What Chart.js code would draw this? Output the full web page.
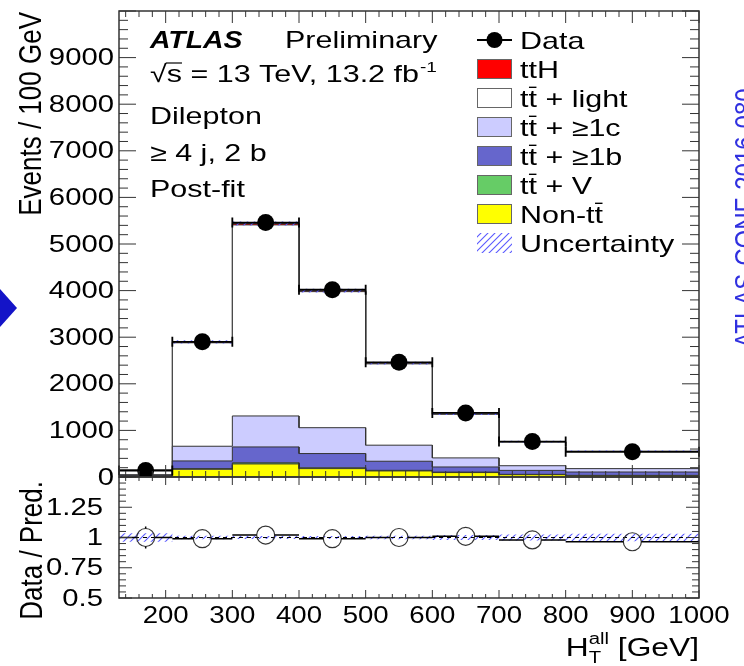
<!DOCTYPE html>
<html>
<head>
<meta charset="utf-8">
<script src="https://cdn.jsdelivr.net/npm/chart.js@4.4.1/dist/chart.umd.min.js"></script>
<style>
html, body { margin: 0; padding: 0; background: #fff; }
#wrap { position: relative; width: 744px; height: 666px; }
</style>
</head>
<body>
<div id="wrap"><canvas id="myChart" width="744" height="666"></canvas></div>
<script>
// H_T^all bins (GeV) and post-fit yields
var binEdges   = [130, 210, 300, 400, 500, 600, 700, 800, 1000];
var dataCounts = [140, 2900, 5460, 4020, 2460, 1375, 760, 540];
var nonTT      = [12, 165, 280, 180, 130, 95, 50, 30];
var ttV        = [3, 15, 25, 18, 13, 10, 7, 5];
var ttB        = [15, 165, 340, 305, 195, 110, 85, 72];
var ttC        = [20, 315, 665, 555, 345, 195, 100, 73];
var ttLight    = [95, 2220, 4100, 2920, 1745, 935, 510, 370];
var ttH        = [2, 20, 30, 22, 14, 8, 5, 3];
var uncRel     = [0.04, 0.012, 0.008, 0.01, 0.012, 0.018, 0.025, 0.03];
// lower panel
var ratioData  = [1.00, 0.99, 1.02, 0.99, 1.00, 1.01, 0.98, 0.965];
var ratioErr   = [0.09, 0.02, 0.015, 0.015, 0.02, 0.03, 0.04, 0.045];
var ratioUnc   = [0.035, 0.015, 0.012, 0.012, 0.015, 0.02, 0.025, 0.03];
// ticks
var xTickVals  = [200, 300, 400, 500, 600, 700, 800, 900, 1000];
var yTickVals  = [0, 1000, 2000, 3000, 4000, 5000, 6000, 7000, 8000, 9000];
var rTickVals  = [0.5, 0.75, 1, 1.25];

var FONT = "'Liberation Sans', Arial, Helvetica, sans-serif";
var STRETCH = 1.27; // the source picture is squeezed wider than tall

function steps(vals) {
  var pts = [];
  for (var i = 0; i < vals.length; i++) {
    pts.push({x: binEdges[i], y: vals[i]});
    pts.push({x: binEdges[i + 1], y: vals[i]});
  }
  return pts;
}

function hatch(color) {
  var c = document.createElement('canvas');
  c.width = 7; c.height = 7;
  var g = c.getContext('2d');
  g.strokeStyle = color;
  g.lineWidth = 1.1;
  g.beginPath();
  g.moveTo(0, 7); g.lineTo(7, 0);
  g.moveTo(-1, 1); g.lineTo(1, -1);
  g.moveTo(6, 8); g.lineTo(8, 6);
  g.stroke();
  return g.createPattern(c, 'repeat');
}
var hatchBlue = hatch('#5a5aff');

// cumulative stack, bottom to top
var layers = [nonTT, ttV, ttB, ttC, ttLight, ttH];
var layerNames = ['Non-tt', 'tt+V', 'tt+b', 'tt+c', 'tt+light', 'ttH'];
var layerColors = ['#ffff00', '#66cc66', '#6666cc', '#ccccff', '#ffffff', '#ff0000'];
var cum = [];
var run = dataCounts.map(function() { return 0; });
layers.forEach(function(arr) {
  run = run.map(function(v, i) { return v + arr[i]; });
  cum.push(run.slice());
});
var total = cum[cum.length - 1];

var datasets = [];
cum.forEach(function(c, k) {
  datasets.push({
    label: layerNames[k],
    data: steps(c),
    yAxisID: 'y',
    borderColor: '#333',
    borderWidth: 1,
    backgroundColor: layerColors[k],
    fill: k === 0 ? 'origin' : '-1',
    pointRadius: 0
  });
});
// uncertainty band (upper)
datasets.push({
  label: 'uncLo', data: steps(total.map(function(v, i) { return v * (1 - uncRel[i]); })),
  yAxisID: 'y', borderWidth: 0, pointRadius: 0, fill: false, order: -1
});
datasets.push({
  label: 'uncHi', data: steps(total.map(function(v, i) { return v * (1 + uncRel[i]); })),
  yAxisID: 'y', borderWidth: 0, pointRadius: 0, fill: '-1', backgroundColor: hatchBlue, order: -1
});
// data points
datasets.push({
  label: 'Data',
  data: dataCounts.map(function(v, i) { return {x: (binEdges[i] + binEdges[i + 1]) / 2, y: v}; }),
  yAxisID: 'y', showLine: false, pointRadius: 8.5, pointBackgroundColor: '#000',
  pointBorderWidth: 0, order: -2
});
// ratio band
datasets.push({
  label: 'rLo', data: steps(ratioUnc.map(function(u) { return 1 - u; })),
  yAxisID: 'yr', borderWidth: 0, pointRadius: 0, fill: false, order: -1
});
datasets.push({
  label: 'rHi', data: steps(ratioUnc.map(function(u) { return 1 + u; })),
  yAxisID: 'yr', borderWidth: 0, pointRadius: 0, fill: '-1', backgroundColor: hatchBlue, order: -1
});
// reference line at 1
datasets.push({
  label: 'ref', data: [{x: binEdges[0], y: 1}, {x: binEdges[binEdges.length - 1], y: 1}],
  yAxisID: 'yr', borderColor: '#000', borderWidth: 1, borderDash: [4, 4], pointRadius: 0, fill: false, order: -2
});
// ratio points
datasets.push({
  label: 'ratio',
  data: ratioData.map(function(v, i) { return {x: (binEdges[i] + binEdges[i + 1]) / 2, y: v}; }),
  yAxisID: 'yr', showLine: false, pointRadius: 9, pointBackgroundColor: 'rgba(0,0,0,0)',
  pointBorderColor: '#333', pointBorderWidth: 1.2, order: -3
});

// stretched text, returns drawn width
function stext(ctx, str, x, y, align, sx) {
  sx = sx || STRETCH;
  ctx.save();
  ctx.translate(x, y);
  ctx.scale(sx, 1);
  ctx.textAlign = align || 'left';
  ctx.fillText(str, 0, 0);
  ctx.restore();
  return ctx.measureText(str).width * sx;
}

function tbar(ctx, x, base, size) {
  // "tt" with a bar over the second t, returns width
  var w1 = ctx.measureText('t').width * STRETCH;
  var w2 = stext(ctx, 'tt', x, base);
  ctx.save();
  ctx.lineWidth = 1.4;
  ctx.strokeStyle = '#000';
  ctx.beginPath();
  ctx.moveTo(x + w1 + 0.5, base - size * 0.82);
  ctx.lineTo(x + w2 - 0.5, base - size * 0.82);
  ctx.stroke();
  ctx.restore();
  return w2;
}

var decor = {
  id: 'decor',
  afterDatasetsDraw: function(chart) {
    var ctx = chart.ctx, xs = chart.scales.x, ys = chart.scales.y, yr = chart.scales.yr;
    ctx.save();
    ctx.strokeStyle = '#000';
    for (var i = 0; i < dataCounts.length; i++) {
      var x0 = xs.getPixelForValue(binEdges[i]), x1 = xs.getPixelForValue(binEdges[i + 1]);
      var py = ys.getPixelForValue(dataCounts[i]);
      ctx.lineWidth = 1.8;
      ctx.beginPath();
      ctx.moveTo(x0, py); ctx.lineTo(x1, py);
      ctx.moveTo(x0, py - 5); ctx.lineTo(x0, py + 5);
      ctx.moveTo(x1, py - 5); ctx.lineTo(x1, py + 5);
      ctx.stroke();
      var ry = yr.getPixelForValue(ratioData[i]);
      var cx = xs.getPixelForValue((binEdges[i] + binEdges[i + 1]) / 2);
      ctx.lineWidth = 1.5;
      ctx.beginPath();
      ctx.moveTo(x0, ry); ctx.lineTo(cx - 9, ry);
      ctx.moveTo(cx + 9, ry); ctx.lineTo(x1, ry);
      var eTop = yr.getPixelForValue(ratioData[i] + ratioErr[i]);
      var eBot = yr.getPixelForValue(ratioData[i] - ratioErr[i]);
      if (ry - eTop > 9) {
        ctx.moveTo(cx, eTop); ctx.lineTo(cx, ry - 9);
        ctx.moveTo(cx, ry + 9); ctx.lineTo(cx, eBot);
      }
      ctx.stroke();
    }
    ctx.restore();
  },
  afterDraw: function(chart) {
    var ctx = chart.ctx, xs = chart.scales.x, ys = chart.scales.y, yr = chart.scales.yr;
    var L = xs.left, R = xs.right;
    ctx.save();
    // frames
    ctx.strokeStyle = '#333';
    ctx.lineWidth = 1.5;
    ctx.strokeRect(L, ys.top, R - L, ys.bottom - ys.top);
    ctx.strokeRect(L, yr.top, R - L, yr.bottom - yr.top);
    // x ticks on all horizontal frame lines
    ctx.lineWidth = 1;
    ctx.beginPath();
    for (var v = 140; v <= 1000; v += 20) {
      var px = xs.getPixelForValue(v);
      var big = v % 100 === 0;
      var l = big ? 12 : 6;
      ctx.moveTo(px, ys.bottom); ctx.lineTo(px, ys.bottom - l);
      ctx.moveTo(px, ys.top); ctx.lineTo(px, ys.top + l);
      ctx.moveTo(px, yr.top); ctx.lineTo(px, yr.top + (big ? 8 : 4));
      ctx.moveTo(px, yr.bottom); ctx.lineTo(px, yr.bottom - (big ? 8 : 4));
    }
    // y ticks upper panel
    for (var y = 0; y <= 10000; y += 200) {
      var py = ys.getPixelForValue(y);
      var ly = y % 1000 === 0 ? 17 : 9;
      ctx.moveTo(L, py); ctx.lineTo(L + ly, py);
      ctx.moveTo(R, py); ctx.lineTo(R - ly, py);
    }
    // y ticks ratio panel
    for (var k = 0; k <= 20; k++) {
      var pr = yr.getPixelForValue(0.5 + k * 0.05);
      var lr = k % 5 === 0 ? 13 : 7;
      ctx.moveTo(L, pr); ctx.lineTo(L + lr, pr);
      ctx.moveTo(R, pr); ctx.lineTo(R - lr, pr);
    }
    ctx.stroke();

    // tick labels
    ctx.fillStyle = '#000';
    ctx.font = '24px ' + FONT;
    ctx.textBaseline = 'middle';
    yTickVals.forEach(function(t) { stext(ctx, String(t), L - 5, ys.getPixelForValue(t) + 1, 'right', 1.22); });
    rTickVals.forEach(function(t) { stext(ctx, String(t), L - 16, yr.getPixelForValue(t) + 1, 'right', 1.22); });
    ctx.textBaseline = 'alphabetic';
    xTickVals.forEach(function(t) { stext(ctx, String(t), xs.getPixelForValue(t), 623, 'center', 1.15); });

    // labels block
    ctx.font = 'italic bold 24px ' + FONT;
    stext(ctx, 'ATLAS', 150, 48, 'left', 1.18);
    ctx.font = '24px ' + FONT;
    stext(ctx, 'Preliminary', 285, 48);
    var sx = 150, sb = 82;
    var wr = stext(ctx, '\u221A', sx, sb);
    var wf = stext(ctx, 's = 13 TeV, 13.2 fb', sx + wr, sb);
    var ws = ctx.measureText('s').width * STRETCH;
    ctx.lineWidth = 1.2;
    ctx.strokeStyle = '#000';
    ctx.beginPath();
    ctx.moveTo(sx + wr - 1, sb - 19); ctx.lineTo(sx + wr + ws, sb - 19);
    ctx.stroke();
    ctx.font = '15px ' + FONT;
    stext(ctx, '-1', sx + wr + wf + 1, sb - 10);
    ctx.font = '24px ' + FONT;
    stext(ctx, 'Dilepton', 150, 124);
    stext(ctx, '\u2265 4 j, 2 b', 150, 161);
    stext(ctx, 'Post-fit', 150, 197);

    // legend
    var bx = 477, bw = 35, tx = 520;
    var rows = ['Data', 'ttH', 'light', 'c', 'b', 'V', 'Non', 'Unc'];
    var cols = {ttH: '#ff0000', light: '#ffffff', c: '#ccccff', b: '#6666cc', V: '#66cc66', Non: '#ffff00'};
    rows.forEach(function(r, i) {
      var cy = 40 + i * 29;
      var base = cy + 9;
      ctx.font = '24px ' + FONT;
      ctx.fillStyle = '#000';
      if (r === 'Data') {
        ctx.lineWidth = 1.8;
        ctx.strokeStyle = '#000';
        ctx.beginPath();
        ctx.moveTo(bx, cy); ctx.lineTo(bx + bw, cy);
        ctx.stroke();
        ctx.beginPath();
        ctx.arc(bx + bw / 2, cy, 8, 0, Math.PI * 2);
        ctx.fill();
        stext(ctx, 'Data', tx, base);
        return;
      }
      if (r === 'Unc') {
        ctx.fillStyle = hatchBlue;
        ctx.fillRect(bx, cy - 10, bw, 20);
        ctx.fillStyle = '#000';
        stext(ctx, 'Uncertainty', tx, base);
        return;
      }
      ctx.fillStyle = cols[r];
      ctx.fillRect(bx, cy - 10, bw, 20);
      ctx.lineWidth = 1;
      ctx.strokeStyle = '#666';
      ctx.strokeRect(bx + 0.5, cy - 9.5, bw - 1, 19);
      ctx.fillStyle = '#000';
      if (r === 'ttH') { stext(ctx, 'ttH', tx, base); return; }
      if (r === 'Non') {
        var wn = stext(ctx, 'Non-', tx, base);
        tbar(ctx, tx + wn, base, 24);
        return;
      }
      var w = tbar(ctx, tx, base, 24);
      var rest = {light: ' + light', c: ' + \u22651c', b: ' + \u22651b', V: ' + V'}[r];
      stext(ctx, rest, tx + w, base);
    });

    // axis titles (rotated, glyphs widened along screen x)
    ctx.fillStyle = '#000';
    ctx.font = '26px ' + FONT;
    ctx.save();
    ctx.translate(41, 12);
    ctx.rotate(-Math.PI / 2);
    ctx.scale(1, 1.2);
    ctx.textAlign = 'right';
    ctx.fillText('Events / 100 GeV', 0, 0);
    ctx.restore();
    ctx.save();
    ctx.translate(42, 481);
    ctx.rotate(-Math.PI / 2);
    ctx.scale(1, 1.2);
    ctx.textAlign = 'right';
    ctx.fillText('Data / Pred.', 0, 0);
    ctx.restore();

    // x title H_T^all [GeV]
    ctx.font = '25px ' + FONT;
    var wH = ctx.measureText('H').width * STRETCH;
    var wG = ctx.measureText(' [GeV]').width * STRETCH;
    ctx.font = '16px ' + FONT;
    var wA = ctx.measureText('all').width * STRETCH;
    var xt = R - (wH + wA + wG);
    var yb = 656;
    ctx.font = '25px ' + FONT;
    stext(ctx, 'H', xt, yb);
    stext(ctx, ' [GeV]', xt + wH + wA, yb);
    ctx.font = '16px ' + FONT;
    stext(ctx, 'all', xt + wH, yb - 12);
    stext(ctx, 'T', xt + wH, yb + 7);

    // slide decorations: arrow on the left, clipped blue text on the right
    ctx.fillStyle = '#1414c8';
    ctx.beginPath();
    ctx.moveTo(0, 289); ctx.lineTo(17, 308); ctx.lineTo(0, 327);
    ctx.closePath();
    ctx.fill();
    ctx.save();
    ctx.translate(755, 348);
    ctx.rotate(-Math.PI / 2);
    ctx.scale(1, 1.25);
    ctx.font = '24px ' + FONT;
    ctx.fillStyle = '#3030e0';
    ctx.fillText('ATLAS-CONF-2016-080', 0, 0);
    ctx.restore();
    ctx.restore();
  }
};

new Chart('myChart', {
  type: 'line',
  data: {datasets: datasets},
  options: {
    responsive: false,
    animation: false,
    layout: {padding: {top: 11, right: 45, left: 0, bottom: 0}},
    plugins: {legend: {display: false}, tooltip: {enabled: false}},
    scales: {
      x: {
        type: 'linear', min: 130, max: 1000,
        grid: {display: false, drawTicks: false},
        border: {display: false},
        afterBuildTicks: function(s) { s.ticks = xTickVals.map(function(v) { return {value: v}; }); },
        afterFit: function(s) { s.height = 68; },
        ticks: {display: false}
      },
      y: {
        type: 'linear', position: 'left', stack: 'panels', stackWeight: 466, weight: 2,
        min: 0, max: 10000,
        grid: {display: false, drawTicks: false},
        border: {display: false},
        afterBuildTicks: function(s) { s.ticks = yTickVals.map(function(v) { return {value: v}; }); },
        afterFit: function(s) { s.width = 119; },
        ticks: {display: false}
      },
      yr: {
        type: 'linear', position: 'left', stack: 'panels', stackWeight: 121, weight: 1,
        min: 0.5, max: 1.5,
        grid: {display: false, drawTicks: false},
        border: {display: false},
        afterBuildTicks: function(s) { s.ticks = rTickVals.map(function(v) { return {value: v}; }); },
        afterFit: function(s) { s.width = 119; },
        ticks: {display: false}
      }
    }
  },
  plugins: [decor]
});
</script>
</body>
</html>
